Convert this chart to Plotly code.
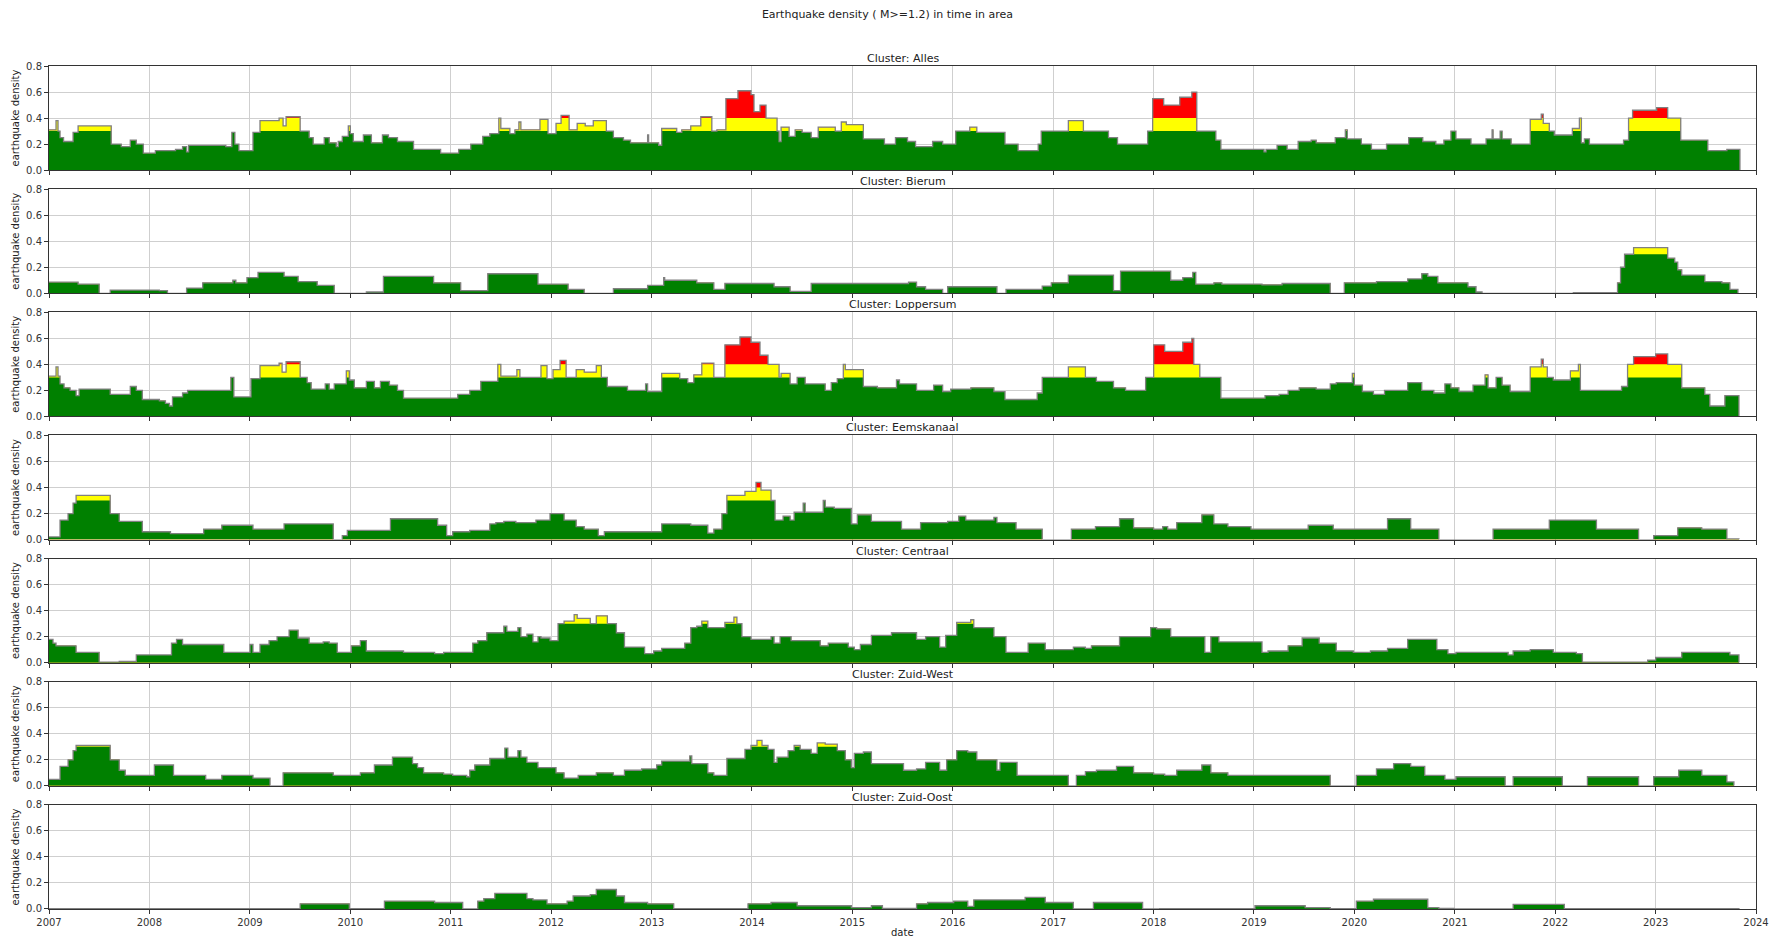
import numpy as np
import pandas as pd
import plotly.graph_objects as go
from plotly.subplots import make_subplots

# ---------------- data (decimal-year breakpoints, step values) ----------------
clusters = ["Alles", "Bierum", "Loppersum", "Eemskanaal", "Centraal", "Zuid-West", "Zuid-Oost"]

alles_t = [2007.0, 2007.07, 2007.09, 2007.11, 2007.145, 2007.24, 2007.29, 2007.62, 2007.72, 2007.81,
           2007.87, 2007.94, 2008.06, 2008.26, 2008.33, 2008.37, 2008.39, 2008.76, 2008.82, 2008.85,
           2008.89, 2009.03, 2009.1, 2009.29, 2009.33, 2009.36, 2009.5, 2009.59, 2009.63, 2009.74,
           2009.79, 2009.86, 2009.88, 2009.92, 2009.98, 2010.0, 2010.03, 2010.13, 2010.21, 2010.32,
           2010.38, 2010.47, 2010.63, 2010.9, 2011.08, 2011.2, 2011.32, 2011.39, 2011.48, 2011.5,
           2011.59, 2011.64, 2011.68, 2011.7, 2011.89, 2011.97, 2012.05, 2012.1, 2012.18, 2012.26,
           2012.34, 2012.42, 2012.55, 2012.62, 2012.72, 2012.79, 2012.96, 2012.97, 2013.07, 2013.1,
           2013.25, 2013.3, 2013.39, 2013.49, 2013.6, 2013.65, 2013.74, 2013.86, 2013.99, 2014.02,
           2014.08, 2014.14, 2014.25, 2014.27, 2014.29, 2014.37, 2014.43, 2014.5, 2014.59, 2014.66,
           2014.83, 2014.89, 2014.94, 2015.11, 2015.32, 2015.43, 2015.55, 2015.63, 2015.8, 2015.9,
           2016.03, 2016.17, 2016.24, 2016.52, 2016.65, 2016.85, 2016.88, 2017.15, 2017.3, 2017.55,
           2017.64, 2017.94, 2017.99, 2018.1, 2018.26, 2018.38, 2018.43, 2018.62, 2018.67, 2019.1,
           2019.12, 2019.23, 2019.33, 2019.44, 2019.57, 2019.62, 2019.81, 2019.91, 2019.93, 2020.07,
           2020.17, 2020.32, 2020.54, 2020.68, 2020.81, 2020.89, 2020.96, 2021.01, 2021.16, 2021.31,
           2021.37, 2021.38, 2021.45, 2021.47, 2021.56, 2021.75, 2021.86, 2021.88, 2021.94, 2021.99,
           2022.17, 2022.24, 2022.26, 2022.29, 2022.34, 2022.68, 2022.73, 2022.77, 2023.01, 2023.12,
           2023.25, 2023.52, 2023.71, 2023.84]
alles_v = [0.31, 0.38, 0.3, 0.25, 0.22, 0.29, 0.34, 0.2, 0.18, 0.23,
           0.2, 0.13, 0.15, 0.16, 0.18, 0.14, 0.19, 0.18, 0.29, 0.2,
           0.15, 0.29, 0.38, 0.4, 0.34, 0.41, 0.3, 0.25, 0.2, 0.25,
           0.21, 0.18, 0.22, 0.26, 0.34, 0.28, 0.22, 0.27, 0.21, 0.27,
           0.25, 0.22, 0.16, 0.13, 0.16, 0.2, 0.26, 0.28, 0.4, 0.32,
           0.28, 0.31, 0.37, 0.31, 0.39, 0.28, 0.36, 0.42, 0.31, 0.36,
           0.34, 0.38, 0.3, 0.25, 0.23, 0.21, 0.27, 0.21, 0.19, 0.32,
           0.29, 0.31, 0.34, 0.41, 0.3, 0.31, 0.55, 0.61, 0.58, 0.45,
           0.5, 0.4, 0.3, 0.22, 0.33, 0.26, 0.31, 0.29, 0.25, 0.33,
           0.3, 0.37, 0.35, 0.24, 0.2, 0.25, 0.22, 0.18, 0.22, 0.2,
           0.3, 0.33, 0.29, 0.2, 0.15, 0.2, 0.3, 0.38, 0.3, 0.25,
           0.2, 0.3, 0.55, 0.5, 0.56, 0.6, 0.3, 0.23, 0.16, 0.14,
           0.16, 0.19, 0.16, 0.22, 0.23, 0.21, 0.25, 0.31, 0.24, 0.2,
           0.16, 0.2, 0.25, 0.22, 0.2, 0.23, 0.3, 0.24, 0.2, 0.24,
           0.31, 0.24, 0.3, 0.24, 0.2, 0.39, 0.43, 0.36, 0.3, 0.27,
           0.32, 0.4, 0.21, 0.24, 0.2, 0.23, 0.4, 0.46, 0.48, 0.4,
           0.23, 0.15, 0.16, 0.0]

bierum_t = [2007.0, 2007.29, 2007.5, 2007.61, 2008.1, 2008.18, 2008.37, 2008.53, 2008.83, 2008.86,
            2008.97, 2009.08, 2009.34, 2009.48, 2009.67, 2009.84, 2010.16, 2010.33, 2010.83, 2011.1,
            2011.37, 2011.87, 2012.17, 2012.33, 2012.62, 2012.96, 2013.12, 2013.13, 2013.45, 2013.62,
            2013.73, 2014.22, 2014.38, 2014.59, 2015.56, 2015.64, 2015.73, 2015.9, 2015.95, 2016.44,
            2016.53, 2016.89, 2016.98, 2017.15, 2017.6, 2017.67, 2018.17, 2018.29, 2018.39, 2018.42,
            2018.6, 2018.68, 2019.08, 2019.28, 2019.76, 2019.9, 2020.22, 2020.53, 2020.67, 2020.73,
            2020.83, 2021.13, 2021.21, 2021.27, 2022.18, 2022.62, 2022.65, 2022.69, 2022.78, 2023.12,
            2023.19, 2023.22, 2023.26, 2023.49, 2023.66, 2023.74, 2023.82]
bierum_v = [0.085, 0.07, 0.0, 0.025, 0.02, 0.0, 0.04, 0.08, 0.1, 0.08,
            0.12, 0.16, 0.13, 0.09, 0.06, 0.0, 0.01, 0.13, 0.08, 0.02,
            0.15, 0.07, 0.03, 0.0, 0.035, 0.06, 0.12, 0.1, 0.08, 0.03,
            0.075, 0.05, 0.015, 0.075, 0.085, 0.05, 0.03, 0.0, 0.05, 0.0,
            0.03, 0.055, 0.08, 0.14, 0.02, 0.17, 0.1, 0.12, 0.16, 0.07,
            0.08, 0.07, 0.065, 0.075, 0.0, 0.08, 0.09, 0.11, 0.15, 0.13,
            0.08, 0.05, 0.01, 0.0, 0.005, 0.08, 0.2, 0.3, 0.35, 0.27,
            0.24, 0.18, 0.14, 0.09, 0.08, 0.03, 0.0]

loppersum_t = [2007.0, 2007.07, 2007.09, 2007.11, 2007.15, 2007.21, 2007.27, 2007.3, 2007.61, 2007.81,
               2007.87, 2007.93, 2008.1, 2008.16, 2008.2, 2008.23, 2008.33, 2008.38, 2008.81, 2008.84,
               2009.01, 2009.1, 2009.29, 2009.32, 2009.36, 2009.5, 2009.57, 2009.61, 2009.75, 2009.79,
               2009.84, 2009.96, 2009.99, 2010.04, 2010.16, 2010.24, 2010.3, 2010.39, 2010.47, 2010.53,
               2011.07, 2011.19, 2011.3, 2011.47, 2011.5, 2011.66, 2011.69, 2011.9, 2011.96, 2012.02,
               2012.09, 2012.15, 2012.25, 2012.33, 2012.45, 2012.5, 2012.56, 2012.76, 2012.94, 2012.96,
               2013.1, 2013.28, 2013.36, 2013.42, 2013.5, 2013.62, 2013.73, 2013.88, 2013.99, 2014.08,
               2014.16, 2014.27, 2014.29, 2014.38, 2014.45, 2014.53, 2014.73, 2014.79, 2014.85, 2014.91,
               2014.93, 2015.11, 2015.25, 2015.44, 2015.47, 2015.64, 2015.81, 2015.9, 2015.98, 2016.18,
               2016.41, 2016.52, 2016.84, 2016.89, 2017.15, 2017.32, 2017.43, 2017.6, 2017.72, 2017.92,
               2018.0, 2018.11, 2018.29, 2018.38, 2018.4, 2018.46, 2018.67, 2019.11, 2019.25, 2019.34,
               2019.45, 2019.62, 2019.76, 2019.82, 2019.98, 2020.0, 2020.08, 2020.19, 2020.3, 2020.53,
               2020.67, 2020.79, 2020.9, 2020.96, 2021.04, 2021.18, 2021.3, 2021.33, 2021.41, 2021.47,
               2021.55, 2021.75, 2021.86, 2021.88, 2021.92, 2021.98, 2022.15, 2022.23, 2022.25, 2022.66,
               2022.72, 2022.78, 2023.0, 2023.12, 2023.26, 2023.49, 2023.54, 2023.69, 2023.83]
loppersum_v = [0.31, 0.38, 0.31, 0.25, 0.22, 0.2, 0.16, 0.21, 0.17, 0.23,
               0.2, 0.13, 0.12, 0.1, 0.08, 0.15, 0.18, 0.2, 0.3, 0.15,
               0.29, 0.39, 0.41, 0.34, 0.42, 0.3, 0.26, 0.21, 0.25, 0.21,
               0.25, 0.35, 0.28, 0.22, 0.27, 0.22, 0.27, 0.24, 0.2, 0.14,
               0.17, 0.2, 0.27, 0.4, 0.31, 0.36, 0.3, 0.39, 0.29, 0.36,
               0.43, 0.3, 0.36, 0.34, 0.39, 0.3, 0.23, 0.2, 0.25, 0.19,
               0.33, 0.29, 0.26, 0.32, 0.41, 0.3, 0.55, 0.61, 0.57, 0.47,
               0.4, 0.3, 0.33, 0.25, 0.3, 0.25, 0.2, 0.26, 0.29, 0.4,
               0.36, 0.23, 0.22, 0.28, 0.25, 0.2, 0.24, 0.19, 0.21, 0.22,
               0.19, 0.13, 0.18, 0.3, 0.38, 0.3, 0.27, 0.22, 0.2, 0.3,
               0.55, 0.5, 0.57, 0.6, 0.4, 0.3, 0.14, 0.16, 0.17, 0.2,
               0.22, 0.21, 0.25, 0.26, 0.33, 0.24, 0.19, 0.17, 0.2, 0.26,
               0.2, 0.18, 0.25, 0.22, 0.19, 0.24, 0.32, 0.22, 0.3, 0.24,
               0.19, 0.38, 0.44, 0.38, 0.3, 0.28, 0.35, 0.4, 0.2, 0.23,
               0.4, 0.46, 0.48, 0.4, 0.22, 0.17, 0.08, 0.16, 0.0]

eemskanaal_t = [2007.0, 2007.11, 2007.19, 2007.24, 2007.27, 2007.61, 2007.7, 2007.93, 2008.21, 2008.54,
                2008.72, 2009.03, 2009.34, 2009.83, 2009.92, 2009.97, 2010.4, 2010.87, 2010.96, 2011.02,
                2011.19, 2011.39, 2011.45, 2011.53, 2011.65, 2011.85, 2011.99, 2012.13, 2012.25, 2012.33,
                2012.47, 2012.53, 2013.1, 2013.39, 2013.56, 2013.62, 2013.7, 2013.75, 2013.93, 2014.04,
                2014.09, 2014.19, 2014.23, 2014.31, 2014.38, 2014.42, 2014.51, 2014.53, 2014.71, 2014.73,
                2014.82, 2014.99, 2015.05, 2015.19, 2015.49, 2015.68, 2015.95, 2016.06, 2016.13, 2016.41,
                2016.44, 2016.63, 2016.89, 2017.18, 2017.42, 2017.66, 2017.8, 2018.0, 2018.09, 2018.14,
                2018.23, 2018.48, 2018.6, 2018.74, 2018.97, 2019.54, 2019.79, 2020.33, 2020.56, 2020.84,
                2021.38, 2021.94, 2022.41, 2022.83, 2022.98, 2023.22, 2023.46, 2023.71, 2023.83]
eemskanaal_v = [0.02, 0.15, 0.2, 0.28, 0.34, 0.2, 0.14, 0.06, 0.045, 0.08,
                0.11, 0.08, 0.12, 0.0, 0.03, 0.07, 0.16, 0.11, 0.03, 0.06,
                0.07, 0.12, 0.13, 0.14, 0.13, 0.15, 0.2, 0.15, 0.1, 0.08,
                0.03, 0.06, 0.12, 0.11, 0.05, 0.08, 0.2, 0.34, 0.37, 0.44,
                0.38, 0.3, 0.15, 0.18, 0.15, 0.21, 0.28, 0.21, 0.3, 0.25,
                0.24, 0.12, 0.19, 0.14, 0.08, 0.13, 0.14, 0.18, 0.15, 0.17,
                0.13, 0.08, 0.0, 0.08, 0.1, 0.16, 0.09, 0.08, 0.1, 0.08,
                0.13, 0.19, 0.12, 0.1, 0.08, 0.11, 0.08, 0.16, 0.08, 0.0,
                0.08, 0.15, 0.08, 0.0, 0.03, 0.09, 0.08, 0.005, 0.0]

centraal_t = [2007.0, 2007.04, 2007.07, 2007.27, 2007.5, 2007.7, 2007.87, 2008.22, 2008.27, 2008.33,
              2008.74, 2009.0, 2009.03, 2009.1, 2009.19, 2009.27, 2009.39, 2009.48, 2009.59, 2009.73,
              2009.79, 2009.87, 2010.01, 2010.1, 2010.16, 2010.53, 2010.84, 2010.93, 2011.22, 2011.27,
              2011.36, 2011.53, 2011.56, 2011.67, 2011.7, 2011.76, 2011.82, 2011.87, 2011.9, 2011.99,
              2012.07, 2012.13, 2012.23, 2012.26, 2012.39, 2012.45, 2012.56, 2012.65, 2012.73, 2012.93,
              2013.02, 2013.1, 2013.33, 2013.39, 2013.45, 2013.5, 2013.56, 2013.73, 2013.82, 2013.85,
              2013.9, 2013.99, 2014.19, 2014.22, 2014.28, 2014.39, 2014.68, 2014.76, 2014.96, 2015.02,
              2015.08, 2015.19, 2015.39, 2015.64, 2015.73, 2015.87, 2015.93, 2016.04, 2016.18, 2016.21,
              2016.41, 2016.53, 2016.75, 2016.92, 2017.2, 2017.32, 2017.38, 2017.66, 2017.97, 2018.03,
              2018.17, 2018.51, 2018.57, 2018.65, 2019.08, 2019.14, 2019.34, 2019.48, 2019.65, 2019.82,
              2019.99, 2020.16, 2020.33, 2020.53, 2020.82, 2020.93, 2021.01, 2021.53, 2021.58, 2021.75,
              2021.98, 2022.21, 2022.27, 2022.92, 2023.0, 2023.26, 2023.74, 2023.83]
centraal_v = [0.18, 0.15, 0.13, 0.08, 0.005, 0.01, 0.06, 0.15, 0.18, 0.14,
              0.08, 0.14, 0.08, 0.14, 0.17, 0.2, 0.25, 0.19, 0.15, 0.16,
              0.15, 0.08, 0.13, 0.17, 0.09, 0.08, 0.07, 0.08, 0.15, 0.17,
              0.23, 0.28, 0.24, 0.27, 0.2, 0.22, 0.16, 0.2, 0.19, 0.17,
              0.3, 0.32, 0.37, 0.34, 0.3, 0.36, 0.3, 0.23, 0.12, 0.07,
              0.09, 0.11, 0.15, 0.27, 0.28, 0.32, 0.27, 0.31, 0.35, 0.3,
              0.2, 0.18, 0.2, 0.15, 0.2, 0.17, 0.13, 0.15, 0.12, 0.1,
              0.14, 0.21, 0.23, 0.18, 0.2, 0.12, 0.21, 0.31, 0.33, 0.27,
              0.2, 0.08, 0.15, 0.1, 0.12, 0.11, 0.13, 0.2, 0.27, 0.26,
              0.2, 0.08, 0.2, 0.16, 0.08, 0.09, 0.13, 0.19, 0.15, 0.09,
              0.08, 0.09, 0.11, 0.18, 0.1, 0.07, 0.08, 0.06, 0.09, 0.1,
              0.08, 0.07, 0.005, 0.02, 0.04, 0.08, 0.06, 0.0]

zuidwest_t = [2007.0, 2007.11, 2007.19, 2007.24, 2007.27, 2007.61, 2007.7, 2007.76, 2008.05, 2008.24,
              2008.56, 2008.72, 2009.03, 2009.2, 2009.33, 2009.83, 2010.1, 2010.24, 2010.42, 2010.62,
              2010.67, 2010.73, 2010.93, 2011.02, 2011.16, 2011.19, 2011.24, 2011.39, 2011.54, 2011.57,
              2011.67, 2011.7, 2011.76, 2011.87, 2012.05, 2012.13, 2012.27, 2012.45, 2012.62, 2012.73,
              2012.9, 2013.05, 2013.1, 2013.38, 2013.4, 2013.56, 2013.62, 2013.75, 2013.93, 2013.99,
              2014.05, 2014.1, 2014.16, 2014.22, 2014.25, 2014.36, 2014.42, 2014.48, 2014.59, 2014.65,
              2014.73, 2014.85, 2014.93, 2014.99, 2015.02, 2015.11, 2015.19, 2015.51, 2015.64, 2015.73,
              2015.87, 2015.94, 2016.04, 2016.15, 2016.24, 2016.44, 2016.47, 2016.64, 2017.15, 2017.23,
              2017.32, 2017.43, 2017.63, 2017.8, 2018.0, 2018.11, 2018.23, 2018.48, 2018.57, 2018.74,
              2019.76, 2020.02, 2020.22, 2020.39, 2020.56, 2020.7, 2020.9, 2021.01, 2021.5, 2021.58,
              2022.07, 2022.32, 2022.83, 2022.98, 2023.23, 2023.46, 2023.71, 2023.78]
zuidwest_v = [0.05, 0.15, 0.2, 0.27, 0.31, 0.2, 0.12, 0.08, 0.16, 0.08,
              0.05, 0.08, 0.06, 0.0, 0.1, 0.08, 0.1, 0.16, 0.22, 0.17,
              0.14, 0.1, 0.09, 0.08, 0.07, 0.12, 0.16, 0.21, 0.29, 0.22,
              0.27, 0.22, 0.18, 0.14, 0.1, 0.06, 0.08, 0.1, 0.08, 0.12,
              0.13, 0.16, 0.19, 0.23, 0.17, 0.1, 0.08, 0.21, 0.28, 0.31,
              0.35, 0.31, 0.28, 0.18, 0.22, 0.27, 0.31, 0.28, 0.25, 0.33,
              0.32, 0.27, 0.2, 0.14, 0.25, 0.26, 0.17, 0.12, 0.13, 0.18,
              0.12, 0.2, 0.27, 0.26, 0.2, 0.12, 0.18, 0.08, 0.0, 0.08,
              0.11, 0.12, 0.15, 0.1, 0.09, 0.08, 0.12, 0.16, 0.1, 0.08,
              0.0, 0.08, 0.13, 0.17, 0.15, 0.08, 0.05, 0.07, 0.0, 0.07,
              0.0, 0.07, 0.0, 0.07, 0.12, 0.08, 0.03, 0.0]

zuidoost_t = [2007.0, 2009.5, 2009.99, 2010.34, 2010.84, 2011.12, 2011.27, 2011.33, 2011.44, 2011.76,
              2011.82, 2011.96, 2012.16, 2012.22, 2012.39, 2012.45, 2012.65, 2012.73, 2012.96, 2013.22,
              2013.96, 2014.19, 2014.45, 2014.99, 2015.19, 2015.3, 2015.64, 2015.75, 2016.01, 2016.15,
              2016.21, 2016.72, 2016.92, 2017.2, 2017.4, 2017.89, 2018.06, 2019.01, 2019.51, 2019.76,
              2020.02, 2020.19, 2020.73, 2020.84, 2020.99, 2021.58, 2022.09, 2023.83]
zuidoost_v = [0.003, 0.04, 0.003, 0.06, 0.05, 0.0, 0.06, 0.08, 0.12, 0.08,
              0.07, 0.04, 0.06, 0.1, 0.11, 0.15, 0.1, 0.05, 0.04, 0.003,
              0.04, 0.05, 0.025, 0.01, 0.025, 0.005, 0.04, 0.05, 0.06, 0.02,
              0.07, 0.09, 0.05, 0.0, 0.05, 0.0, 0.003, 0.025, 0.01, 0.003,
              0.06, 0.075, 0.01, 0.005, 0.0, 0.035, 0.003, 0.0]

series = [(alles_t, alles_v), (bierum_t, bierum_v), (loppersum_t, loppersum_v),
          (eemskanaal_t, eemskanaal_v), (centraal_t, centraal_v),
          (zuidwest_t, zuidwest_v), (zuidoost_t, zuidoost_v)]

y_ticks = [0.0, 0.2, 0.4, 0.6, 0.8]
x_tick_years = list(range(2007, 2025))
GREEN_LIMIT = 0.3
YELLOW_LIMIT = 0.4

# ---------------- helpers ----------------
def to_date(y):
    yr = int(np.floor(y))
    frac = y - yr
    start = pd.Timestamp(year=yr, month=1, day=1)
    end = pd.Timestamp(year=yr + 1, month=1, day=1)
    return start + (end - start) * frac

# ---------------- figure ----------------
W, H = 1775, 938
L, R, T, B = 49, 19, 66, 29
plot_h = H - T - B
gap = 19

fig = make_subplots(rows=7, cols=1, shared_xaxes=True,
                    vertical_spacing=gap / plot_h,
                    subplot_titles=[f"Cluster: {c}" for c in clusters])

FONT = "DejaVu Sans"
for i, (t, v) in enumerate(series, start=1):
    n = min(len(t), len(v))
    x = [to_date(y) for y in t[:n]]
    d = np.array(v[:n], dtype=float)
    layers = [(d, "#ff0000"),
              (np.minimum(d, YELLOW_LIMIT), "#ffff00"),
              (np.minimum(d, GREEN_LIMIT), "#008000")]
    for vals, col in layers:
        fig.add_trace(go.Scatter(x=x, y=vals, mode="lines",
                                 line=dict(width=0, shape="hv", color=col),
                                 fill="tozeroy", fillcolor=col,
                                 showlegend=False, hoverinfo="skip"),
                      row=i, col=1)
    fig.add_trace(go.Scatter(x=x, y=d, mode="lines",
                             line=dict(width=1.3, shape="hv", color="#808080"),
                             showlegend=False, hoverinfo="skip"),
                  row=i, col=1)

fig.update_yaxes(range=[0, 0.8], tickvals=y_ticks, ticktext=[f"{y:.1f}" for y in y_ticks],
                 showgrid=True, gridcolor="#cfcfcf", gridwidth=1,
                 showline=True, mirror=True, linecolor="#333333", linewidth=1,
                 ticks="outside", ticklen=4, tickcolor="#333333",
                 tickfont=dict(family=FONT, size=10, color="#333333"),
                 title=dict(text="earthquake density", standoff=4,
                            font=dict(family=FONT, size=10, color="#222222")),
                 zeroline=False, automargin=False, fixedrange=True)

fig.update_xaxes(type="date",
                 range=[pd.Timestamp("2007-01-01"), pd.Timestamp("2024-01-01")],
                 tickvals=[pd.Timestamp(year=y, month=1, day=1) for y in x_tick_years],
                 ticktext=[str(y) for y in x_tick_years],
                 showgrid=True, gridcolor="#cfcfcf", gridwidth=1,
                 showline=True, mirror=True, linecolor="#333333", linewidth=1,
                 ticks="outside", ticklen=4, tickcolor="#333333",
                 tickfont=dict(family=FONT, size=10, color="#333333"),
                 zeroline=False, automargin=False)

fig.update_annotations(font=dict(family=FONT, size=11, color="#222222"), yshift=-1)

fig.add_annotation(text="date", xref="paper", yref="paper", x=0.5, y=-24 / plot_h,
                   xanchor="center", yanchor="middle", showarrow=False,
                   font=dict(family=FONT, size=10, color="#222222"))

fig.update_layout(
    width=W, height=H,
    margin=dict(l=L, r=R, t=T, b=B),
    paper_bgcolor="white", plot_bgcolor="white",
    showlegend=False,
    title=dict(text="Earthquake density ( M>=1.2) in time in area",
               x=0.5, xref="container", xanchor="center",
               y=1 - 14 / H, yref="container", yanchor="middle",
               font=dict(family=FONT, size=11, color="#222222")),
)

fig.write_html("out.html",
               config={"displayModeBar": False},
               post_script="document.body.style.margin='0px';document.body.style.overflow='hidden';")
